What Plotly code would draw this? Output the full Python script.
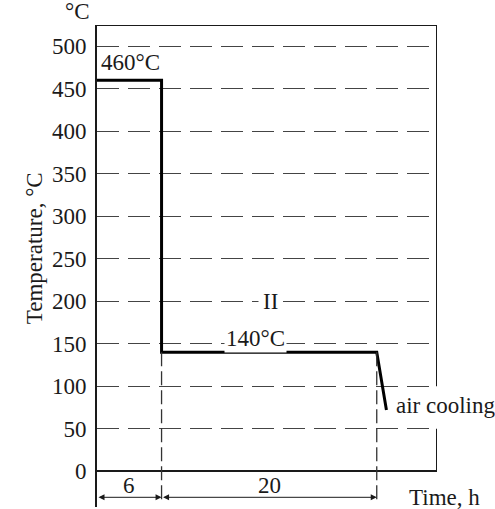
import plotly.graph_objects as go

# Data
profile_time = [0, 6, 6, 26, 26.9]
profile_temp = [460, 460, 140, 140, 72]
y_ticks = [0, 50, 100, 150, 200, 250, 300, 350, 400, 450, 500]
stage_durations = [6, 20]
stage_bounds = [0, 6, 26]

FONT = "Liberation Serif, Times New Roman, serif"
INK = "#1a1a1a"
FS = 23
X_MAX = 31.6
Y_MIN, Y_MAX = -42, 525
DIM_Y = -30.6

fig = go.Figure()
fig.add_trace(go.Scatter(x=profile_time, y=profile_temp, mode="lines",
                         line=dict(color="black", width=3), hoverinfo="skip",
                         showlegend=False, cliponaxis=False))

shapes = []
shapes.append(dict(type="line", xref="x", yref="y", x0=0, x1=X_MAX, y0=Y_MAX, y1=Y_MAX,
                   line=dict(color=INK, width=2)))
shapes.append(dict(type="line", xref="x", yref="y", x0=X_MAX, x1=X_MAX, y0=Y_MAX, y1=100,
                   line=dict(color=INK, width=2)))
shapes.append(dict(type="line", xref="x", yref="y", x0=X_MAX, x1=X_MAX, y0=50, y1=0,
                   line=dict(color=INK, width=2)))
for xb in stage_bounds[1:]:
    shapes.append(dict(type="line", xref="x", yref="y", x0=xb, x1=xb, y0=140, y1=Y_MIN + 4,
                       line=dict(color="#333", width=1.3, dash="14px,5px")))
fig.update_layout(shapes=shapes)

ann = []
for i, d in enumerate(stage_durations):
    x0, x1 = stage_bounds[i], stage_bounds[i + 1]
    ann.append(dict(x=x1, y=DIM_Y, ax=x0, ay=DIM_Y, xref="x", yref="y", axref="x", ayref="y",
                    text="", showarrow=True, arrowhead=2, startarrowhead=2, arrowside="end+start",
                    arrowsize=1.2, arrowwidth=1, arrowcolor=INK))
    ann.append(dict(x=(x0 + x1) / 2, y=-16.5, xref="x", yref="y", text=str(d), showarrow=False,
                    font=dict(family=FONT, size=FS, color=INK)))

ann += [
    dict(x=0, y=1, xref="paper", yref="paper", xanchor="right", yanchor="bottom", xshift=-5,
         yshift=-1, text="°C", showarrow=False, font=dict(family=FONT, size=FS, color=INK)),
    dict(x=3.07, y=481, xref="x", yref="y", text="460°C", showarrow=False,
         font=dict(family=FONT, size=FS, color=INK)),
    dict(x=14.7, y=156, xref="x", yref="y", text="140°C", showarrow=False, bgcolor="white",
         font=dict(family=FONT, size=FS, color=INK)),
    dict(x=16.1, y=200, xref="x", yref="y", text="II", showarrow=False, bgcolor="white",
         borderpad=4, font=dict(family=FONT, size=FS, color=INK)),
    dict(x=27.6, y=77.6, xref="x", yref="y", xanchor="left", text="air cooling", showarrow=False,
         font=dict(family=FONT, size=FS, color=INK)),
    dict(x=28.8, y=-30.6, xref="x", yref="y", xanchor="left", text="Time, h", showarrow=False,
         font=dict(family=FONT, size=FS, color=INK)),
    dict(x=-0.226, y=262, xref="paper", yref="y", text="Temperature, °C", textangle=-90,
         showarrow=False, font=dict(family=FONT, size=FS, color=INK)),
]
fig.update_layout(annotations=ann)

fig.update_xaxes(range=[0, X_MAX], showgrid=False, zeroline=False, showline=False,
                 showticklabels=False, ticks="")
fig.update_yaxes(range=[Y_MIN, Y_MAX], tickvals=y_ticks, ticktext=[str(v) for v in y_ticks],
                 showgrid=True, gridcolor="#444", gridwidth=1.2, griddash="22px,9px",
                 zeroline=True, zerolinecolor=INK, zerolinewidth=2,
                 showline=True, linecolor=INK, linewidth=2, ticks="", ticklabelstandoff=4,
                 tickfont=dict(family=FONT, size=FS, color=INK))

fig.update_layout(width=495, height=509, margin=dict(l=97, r=58, t=25, b=2),
                  plot_bgcolor="white", paper_bgcolor="white", showlegend=False)

fig.write_html("out.html")
